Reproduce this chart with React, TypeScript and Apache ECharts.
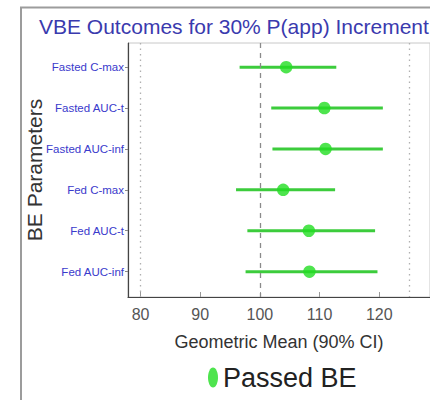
import React, { useEffect, useRef } from "react";
import * as echarts from "echarts";

const categories = [
  "Fasted C-max",
  "Fasted AUC-t",
  "Fasted AUC-inf",
  "Fed C-max",
  "Fed AUC-t",
  "Fed AUC-inf",
];
const geoMean = [104.4, 110.8, 111.0, 103.9, 108.2, 108.3];
const ciLower = [96.6, 101.9, 102.1, 96.0, 97.9, 97.6];
const ciUpper = [112.8, 120.6, 120.6, 112.6, 119.3, 119.7];
const xTickValues = [80, 90, 100, 110, 120];
const dottedRefs = [80, 125];
const dashedRef = 100;
const titleText = "VBE Outcomes for 30% P(app) Increment";
const legendName = "Passed BE";

export default function App() {
  const ref = useRef<HTMLDivElement>(null);
  useEffect(() => {
    if (!ref.current) return;
    const chart = echarts.init(ref.current, null, { renderer: "svg" });
    const rowIdx = categories.map((_, i) => i + 1);
    const green = "#22dd22";
    const barGreen = "#3ccc3c";
    chart.setOption({
      animation: false,
      backgroundColor: "#ffffff",
      textStyle: { fontFamily: "Liberation Sans, Arial, sans-serif" },
      title: {
        text: titleText,
        left: 34,
        top: 11,
        textStyle: { fontSize: 21, fontWeight: "normal", color: "#3a3aae" },
      },
      graphic: [
        {
          type: "polyline",
          shape: { points: [[21, 400], [21, 7.5], [432, 7.5]] },
          style: { stroke: "#9c9c9c", lineWidth: 2, fill: "none" },
          silent: true,
        },
      ],
      legend: {
        left: 203,
        top: 359,
        itemWidth: 10,
        itemHeight: 22,
        textStyle: { fontSize: 27, color: "#222" },
        data: [
          {
            name: legendName,
            icon: "path://M5 0 C8 0 10 5 10 10 C10 15 8 20 5 20 C2 20 0 15 0 10 C0 5 2 0 5 0 Z",
          },
        ],
      },
      grid: {
        left: 128,
        top: 43,
        right: -10,
        bottom: 103,
        show: true,
        borderColor: "#c8c8c8",
        borderWidth: 1,
      },
      xAxis: {
        type: "value",
        min: 77.9,
        max: 128.5,
        splitLine: { show: false },
        axisLine: { show: true, lineStyle: { color: "#444", width: 1.2 } },
        axisTick: {
          show: true,
          inside: true,
          length: 5,
          customValues: xTickValues,
          lineStyle: { color: "#999" },
        },
        axisLabel: {
          customValues: xTickValues,
          fontSize: 16,
          color: "#555",
          margin: 9,
        },
        name: "Geometric Mean (90% CI)",
        nameLocation: "middle",
        nameGap: 36,
        nameMoveOverlap: false,
        nameTextStyle: { fontSize: 18, color: "#333" },
      },
      yAxis: {
        type: "value",
        inverse: true,
        min: 0.41,
        max: 6.62,
        splitLine: { show: false },
        axisLine: { show: true, lineStyle: { color: "#444", width: 1.2 } },
        axisTick: {
          show: true,
          length: 3,
          customValues: rowIdx,
          lineStyle: { color: "#888" },
        },
        axisLabel: {
          customValues: rowIdx,
          formatter: (v: number) => categories[Math.round(v) - 1] ?? "",
          fontSize: 11.5,
          color: "#3a3acc",
          margin: 4,
        },
        name: "BE Parameters",
        nameLocation: "middle",
        nameGap: 83,
        nameMoveOverlap: false,
        nameTextStyle: { fontSize: 21, color: "#333" },
      },
      series: [
        {
          type: "line",
          data: [],
          silent: true,
          z: 1,
          markLine: {
            silent: true,
            symbol: "none",
            label: { show: false },
            data: [
              { xAxis: dashedRef, lineStyle: { type: [5, 5], color: "#8a8a8a", width: 1.3 } },
              ...dottedRefs.map((v) => ({
                xAxis: v,
                lineStyle: { type: [1.5, 4], color: "#b0b0b0", width: 1.3 },
              })),
            ],
          },
        },
        {
          type: "custom",
          z: 2,
          silent: true,
          data: categories.map((_, i) => [ciLower[i], ciUpper[i], i + 1]),
          encode: { x: [0, 1], y: 2 },
          renderItem: (params: any, api: any) => {
            const y = api.value(2);
            const p1 = api.coord([api.value(0), y]);
            const p2 = api.coord([api.value(1), y]);
            return {
              type: "line",
              shape: { x1: p1[0], y1: p1[1], x2: p2[0], y2: p2[1] },
              style: { stroke: barGreen, lineWidth: 3 },
            };
          },
        },
        {
          name: legendName,
          type: "scatter",
          z: 3,
          symbol: "circle",
          symbolSize: 12.5,
          itemStyle: { color: green },
          data: geoMean.map((v, i) => [v, i + 1]),
        },
      ],
    });
    return () => chart.dispose();
  }, []);
  return (
    <div
      ref={ref}
      style={{ position: "fixed", left: 0, top: 0, width: 430, height: 400 }}
    />
  );
}
